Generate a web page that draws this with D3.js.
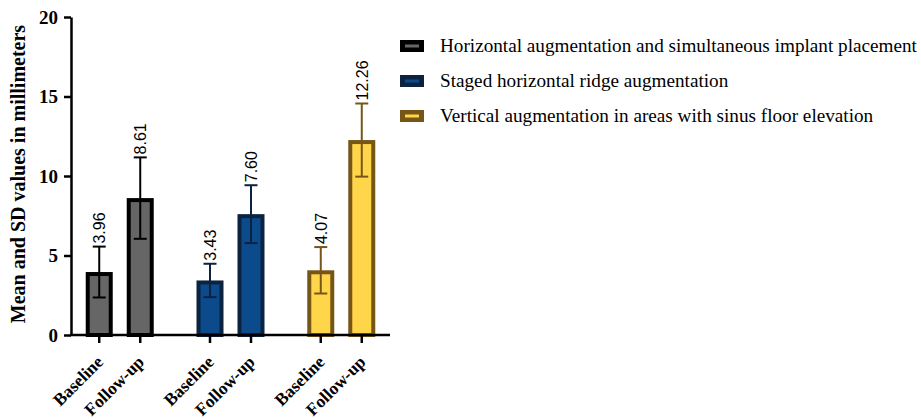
<!DOCTYPE html>
<html>
<head>
<meta charset="utf-8">
<script src="https://cdn.jsdelivr.net/npm/d3@7"></script>
<style>
    body{ margin:0; background:#fff; }
    svg{ display:block; }
</style>
</head>
<body>
<script>
// data
const groups = ['Horizontal augmentation and simultaneous implant placement',
                'Staged horizontal ridge augmentation',
                'Vertical augmentation in areas with sinus floor elevation'];
const timepoints = ['Baseline', 'Follow-up'];
const means = [[3.96, 8.61], [3.43, 7.60], [4.07, 12.26]];
const sds = [[1.60, 2.56], [1.05, 1.82], [1.46, 2.30]];
const yTicks = [0, 5, 10, 15, 20];

// styles per group
const fills = ['#666666', '#0b4b8c', '#ffd54a'];
const strokes = ['#000000', '#0b2240', '#765617'];

const width = 921, height = 419;
const svg = d3.select('body').append('svg')
    .attr('width', width).attr('height', height);

// scales
const y = d3.scaleLinear().domain([0, 20]).range([335, 17]);
const xg = d3.scalePoint().domain(groups).range([71, 390]).padding(0.44);
const xi = d3.scalePoint().domain(timepoints).range([-20.5, 20.5]);
const barW = 23;

// flatten for drawing
const bars = [];
groups.forEach((g, gi) => timepoints.forEach((t, ti) => {
    bars.push({g, gi, t, m: means[gi][ti], sd: sds[gi][ti], cx: xg(g) + xi(t)});
}));

const chart = svg.append('g');

// bars (stroke kept inside the value height)
chart.selectAll('rect.bar').data(bars).join('rect')
    .classed('bar', true)
    .attr('x', d => d.cx - barW/2)
    .attr('y', d => y(d.m) + 2)
    .attr('width', barW)
    .attr('height', d => y(0) - y(d.m) - 2)
    .attr('fill', d => fills[d.gi])
    .attr('stroke', d => strokes[d.gi])
    .attr('stroke-width', 4);

// error bars
const err = chart.selectAll('g.err').data(bars).join('g')
    .classed('err', true)
    .attr('stroke', d => strokes[d.gi])
    .attr('stroke-width', 2);
err.append('line')
    .attr('x1', d => d.cx).attr('x2', d => d.cx)
    .attr('y1', d => y(d.m + d.sd)).attr('y2', d => y(d.m - d.sd));
err.append('line')
    .attr('x1', d => d.cx - 6.5).attr('x2', d => d.cx + 6.5)
    .attr('y1', d => y(d.m + d.sd)).attr('y2', d => y(d.m + d.sd));
err.append('line')
    .attr('x1', d => d.cx - 6.5).attr('x2', d => d.cx + 6.5)
    .attr('y1', d => y(d.m - d.sd)).attr('y2', d => y(d.m - d.sd));

// value labels
chart.selectAll('text.val').data(bars).join('text')
    .classed('val', true)
    .attr('transform', d => `translate(${d.cx},${y(d.m + d.sd) - 3}) rotate(-90)`)
    .attr('dy', '0.36em')
    .attr('font-family', 'Liberation Sans, Arial, sans-serif')
    .attr('font-size', 16)
    .text(d => d.m.toFixed(2));

// y axis
const yAxis = svg.append('g')
    .attr('transform', 'translate(71,0)')
    .call(d3.axisLeft(y).tickValues(yTicks).tickSize(7).tickSizeOuter(0));
yAxis.selectAll('path, line').attr('stroke', '#000').attr('stroke-width', 2.5);
yAxis.selectAll('text')
    .attr('font-family', 'Liberation Serif, Times New Roman, serif')
    .attr('font-weight', 'bold').attr('font-size', 19).attr('fill', '#000')
    .attr('x', -13);

// x axis
svg.append('line')
    .attr('x1', 70).attr('x2', 390).attr('y1', y(0)).attr('y2', y(0))
    .attr('stroke', '#000').attr('stroke-width', 2.5);
svg.selectAll('line.xtick').data(bars).join('line')
    .classed('xtick', true)
    .attr('x1', d => d.cx).attr('x2', d => d.cx)
    .attr('y1', y(0)).attr('y2', y(0) + 8)
    .attr('stroke', '#000').attr('stroke-width', 2.5);
svg.selectAll('text.xlab').data(bars).join('text')
    .classed('xlab', true)
    .attr('transform', d => `translate(${d.cx + 5},${y(0) + 28}) rotate(-45)`)
    .attr('text-anchor', 'end')
    .attr('font-family', 'Liberation Serif, Times New Roman, serif')
    .attr('font-weight', 'bold').attr('font-size', 17.5)
    .text(d => d.t);

// y title
svg.append('text')
    .attr('transform', `translate(25,${(y(0) + y(20)) / 2 - 2}) rotate(-90)`)
    .attr('text-anchor', 'middle')
    .attr('font-family', 'Liberation Serif, Times New Roman, serif')
    .attr('font-weight', 'bold').attr('font-size', 20)
    .text('Mean and SD values in millimeters');

// legend
const legY = d3.scalePoint().domain(groups).range([46, 116]);
const leg = svg.selectAll('g.leg').data(groups).join('g')
    .classed('leg', true)
    .attr('transform', d => `translate(400,${legY(d)})`);
leg.append('rect')
    .attr('x', 0).attr('y', -6).attr('width', 24).attr('height', 12)
    .attr('fill', (d, i) => strokes[i]);
leg.append('rect')
    .attr('x', 5).attr('y', -1.5).attr('width', 14).attr('height', 3)
    .attr('fill', (d, i) => fills[i]);
leg.append('text')
    .attr('x', 40).attr('dy', '0.33em')
    .attr('font-family', 'Liberation Serif, Times New Roman, serif')
    .attr('font-size', 19.2)
    .text(d => d);
</script>
</body>
</html>
